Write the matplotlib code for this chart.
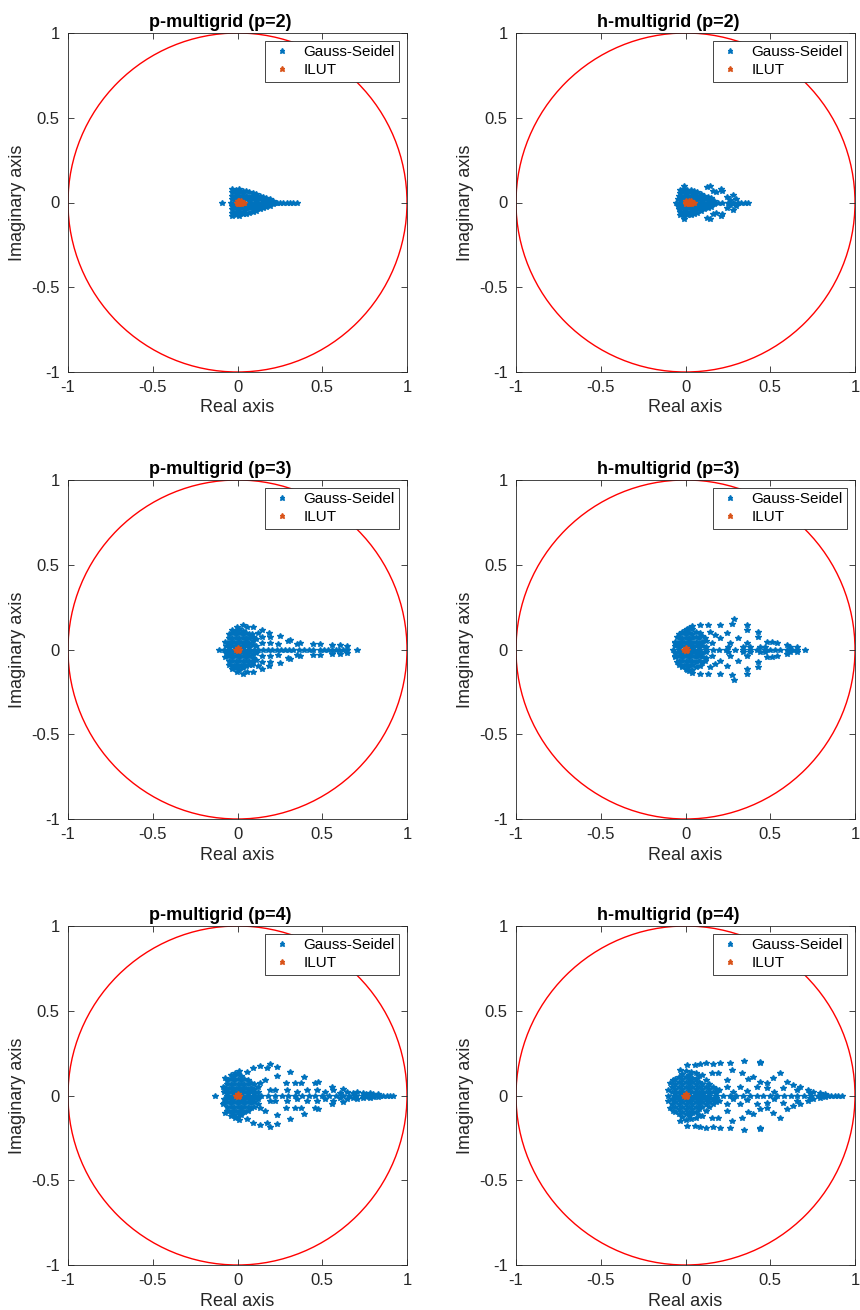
import matplotlib
matplotlib.use("Agg")
import matplotlib.pyplot as plt
from matplotlib.patches import Circle

plt.rcParams['font.family'] = ['Liberation Sans', 'DejaVu Sans']

# eigenvalues: points on the real axis, and the upper-half (conjugate pairs mirrored below)
pg2_axis = [-0.09, -0.04, -0.02, 0.0, 0.02, 0.04, 0.06, 0.08, 0.10, 0.12, 0.14, 0.16, 0.18,
            0.20, 0.22, 0.231, 0.251, 0.271, 0.29, 0.31, 0.33, 0.353]
pg2_pts = [(-0.03, 0.02), (-0.03, 0.04), (-0.03, 0.06), (-0.03, 0.08),
           (-0.01, 0.015), (-0.01, 0.035), (-0.01, 0.055), (-0.01, 0.075),
           (0.01, 0.02), (0.01, 0.04), (0.01, 0.06), (0.01, 0.08),
           (0.03, 0.015), (0.03, 0.035), (0.03, 0.055), (0.03, 0.07),
           (0.05, 0.02), (0.05, 0.04), (0.05, 0.065),
           (0.07, 0.015), (0.07, 0.035), (0.07, 0.06),
           (0.09, 0.02), (0.09, 0.04), (0.09, 0.055),
           (0.11, 0.015), (0.11, 0.035), (0.11, 0.05),
           (0.13, 0.02), (0.13, 0.04), (0.15, 0.015), (0.15, 0.033),
           (0.17, 0.012), (0.17, 0.027), (0.19, 0.01), (0.19, 0.02), (0.21, 0.008)]

hg2_axis = [-0.055, -0.03, -0.01, 0.01, 0.03, 0.05, 0.07, 0.09, 0.11, 0.13, 0.15, 0.17,
            0.19, 0.215, 0.25, 0.28, 0.31, 0.33, 0.35, 0.37]
hg2_pts = [(-0.045, 0.02), (-0.04, 0.04),
           (-0.03, 0.015), (-0.03, 0.035), (-0.03, 0.055), (-0.03, 0.075),
           (-0.01, 0.02), (-0.01, 0.04), (-0.01, 0.06), (-0.01, 0.08), (-0.01, 0.095),
           (0.01, 0.015), (0.01, 0.035), (0.01, 0.055), (0.01, 0.075),
           (0.03, 0.02), (0.03, 0.04), (0.03, 0.06), (0.03, 0.075),
           (0.05, 0.015), (0.05, 0.035), (0.05, 0.055), (0.05, 0.07),
           (0.07, 0.02), (0.07, 0.04), (0.07, 0.06),
           (0.09, 0.015), (0.09, 0.035), (0.09, 0.05),
           (0.11, 0.02), (0.11, 0.04), (0.13, 0.015), (0.13, 0.03),
           (0.15, 0.012), (0.15, 0.025), (0.17, 0.01),
           (0.125, 0.093), (0.145, 0.095), (0.16, 0.068), (0.18, 0.062), (0.21, 0.078),
           (0.215, 0.068), (0.245, 0.035), (0.28, 0.045), (0.30, 0.02), (0.26, 0.015)]

pg3_axis = [-0.109, -0.08, -0.05, -0.02, 0.01, 0.04, 0.07, 0.1, 0.123, 0.152, 0.18, 0.205,
            0.231, 0.255, 0.28, 0.305, 0.33, 0.36, 0.39, 0.42, 0.447, 0.487, 0.51, 0.536,
            0.56, 0.58, 0.6, 0.62, 0.644, 0.703]
pg3_pts = [(0.03, 0.145), (0.054, 0.135), (0.093, 0.131), (0.143, 0.115), (0.188, 0.095),
           (0.251, 0.08), (0.31, 0.056), (0.369, 0.036), (-0.005, 0.135), (-0.034, 0.095),
           (-0.074, 0.046), (0.3, 0.052), (0.349, 0.03), (0.447, 0.03), (0.487, 0.03),
           (0.555, 0.026), (0.605, 0.026), (0.644, 0.023), (0.143, 0.036), (0.192, 0.04),
           (0.24, 0.03), (0.143, 0.076), (0.192, 0.072), (0.084, 0.091), (0.123, 0.095),
           (-0.07, 0.02), (-0.05, 0.015), (-0.05, 0.04), (-0.05, 0.065), (-0.05, 0.09),
           (-0.03, 0.02), (-0.03, 0.045), (-0.03, 0.07), (-0.03, 0.115),
           (-0.01, 0.015), (-0.01, 0.04), (-0.01, 0.065), (-0.01, 0.09), (-0.01, 0.11),
           (0.01, 0.02), (0.01, 0.045), (0.01, 0.07), (0.01, 0.095), (0.01, 0.12),
           (0.03, 0.015), (0.03, 0.04), (0.03, 0.065), (0.03, 0.09), (0.03, 0.11),
           (0.05, 0.02), (0.05, 0.045), (0.05, 0.07), (0.05, 0.1),
           (0.07, 0.015), (0.07, 0.04), (0.07, 0.065), (0.07, 0.09),
           (0.09, 0.025), (0.09, 0.05), (0.09, 0.075), (0.11, 0.02), (0.11, 0.06)]

hg3_axis = [-0.072, -0.04, -0.01, 0.02, 0.05, 0.08, 0.12, 0.16, 0.2, 0.24, 0.29, 0.34,
            0.38, 0.42, 0.47, 0.5, 0.53, 0.56, 0.6, 0.63, 0.66, 0.705]
hg3_pts = [(-0.062, 0.036), (-0.052, 0.076), (-0.023, 0.105), (0.007, 0.119), (0.036, 0.139),
           (0.085, 0.145), (0.135, 0.145), (0.204, 0.145), (0.272, 0.15), (0.288, 0.178),
           (0.361, 0.145), (0.361, 0.115), (0.43, 0.105), (0.43, 0.076), (0.243, 0.095),
           (0.31, 0.066), (0.361, 0.036), (0.479, 0.046), (0.508, 0.046), (0.537, 0.036),
           (0.596, 0.026), (0.145, 0.105), (0.175, 0.085), (0.204, 0.066), (0.263, 0.036),
           (0.085, 0.095), (0.115, 0.066), (0.154, 0.036), (0.253, 0.017), (0.341, 0.017),
           (0.38, 0.017), (0.44, 0.017), (0.47, 0.017), (0.616, 0.013), (0.655, 0.017),
           (-0.06, 0.02), (-0.06, 0.045),
           (-0.04, 0.015), (-0.04, 0.04), (-0.04, 0.065), (-0.04, 0.09),
           (-0.02, 0.02), (-0.02, 0.045), (-0.02, 0.07), (-0.02, 0.095),
           (0.0, 0.015), (0.0, 0.04), (0.0, 0.065), (0.0, 0.09), (0.0, 0.115),
           (0.02, 0.02), (0.02, 0.045), (0.02, 0.07), (0.02, 0.1), (0.02, 0.125),
           (0.04, 0.015), (0.04, 0.04), (0.04, 0.065), (0.04, 0.09), (0.04, 0.12),
           (0.06, 0.02), (0.06, 0.045), (0.06, 0.075), (0.06, 0.105),
           (0.08, 0.015), (0.08, 0.04), (0.08, 0.065),
           (0.10, 0.02), (0.10, 0.045), (0.10, 0.08), (0.12, 0.015), (0.12, 0.05)]

pg4_axis = [-0.133, -0.06, -0.03, 0.0, 0.03, 0.06, 0.09, 0.12, 0.14, 0.18, 0.22, 0.26, 0.3,
            0.34, 0.38, 0.42, 0.46, 0.5, 0.54, 0.58, 0.62, 0.66, 0.7, 0.74, 0.78, 0.8,
            0.82, 0.84, 0.86, 0.88, 0.9, 0.919]
pg4_pts = [(-0.083, 0.052), (-0.074, 0.101), (-0.015, 0.131), (0.01, 0.145), (0.054, 0.141),
           (0.093, 0.16), (0.133, 0.174), (0.192, 0.186), (0.235, 0.166), (0.172, 0.16),
           (0.231, 0.115), (0.31, 0.137), (0.393, 0.111), (0.285, 0.072), (0.339, 0.072),
           (0.377, 0.072), (0.457, 0.072), (0.477, 0.082), (0.555, 0.052), (0.566, 0.033),
           (0.625, 0.036), (0.645, 0.023), (0.704, 0.023), (0.743, 0.017), (0.782, 0.013),
           (0.831, 0.007), (0.133, 0.072), (0.162, 0.091), (0.192, 0.033), (0.221, 0.033),
           (0.29, 0.033), (0.349, 0.023), (0.408, 0.033), (0.467, 0.033), (0.516, 0.023),
           (0.605, 0.013), (0.68, 0.012), (0.76, 0.01), (0.8, 0.008),
           (-0.08, 0.02), (-0.08, 0.045),
           (-0.06, 0.015), (-0.06, 0.04), (-0.06, 0.065), (-0.06, 0.09),
           (-0.04, 0.02), (-0.04, 0.045), (-0.04, 0.07), (-0.04, 0.095), (-0.04, 0.12),
           (-0.02, 0.015), (-0.02, 0.04), (-0.02, 0.065), (-0.02, 0.09), (-0.02, 0.115),
           (0.0, 0.02), (0.0, 0.045), (0.0, 0.07), (0.0, 0.095), (0.0, 0.125),
           (0.02, 0.015), (0.02, 0.04), (0.02, 0.065), (0.02, 0.09), (0.02, 0.115),
           (0.04, 0.02), (0.04, 0.045), (0.04, 0.07), (0.04, 0.1),
           (0.06, 0.015), (0.06, 0.04), (0.06, 0.065), (0.06, 0.09),
           (0.08, 0.02), (0.08, 0.045), (0.08, 0.075),
           (0.10, 0.015), (0.10, 0.04), (0.10, 0.065), (0.12, 0.02), (0.12, 0.05)]

hg4_axis = [-0.101, -0.07, -0.04, -0.01, 0.02, 0.05, 0.08, 0.11, 0.14, 0.18, 0.22, 0.26,
            0.3, 0.34, 0.38, 0.42, 0.46, 0.5, 0.54, 0.58, 0.62, 0.66, 0.7, 0.74, 0.78,
            0.8, 0.82, 0.84, 0.86, 0.88, 0.9, 0.921]
hg4_pts = [(-0.101, 0.032), (-0.091, 0.072), (-0.072, 0.091), (-0.033, 0.15), (0.007, 0.18),
           (0.056, 0.18), (0.085, 0.186), (0.121, 0.19), (0.164, 0.186), (0.204, 0.194),
           (0.263, 0.19), (0.345, 0.206), (0.44, 0.2), (0.44, 0.19), (0.033, 0.141),
           (0.096, 0.121), (0.154, 0.131), (0.193, 0.131), (0.272, 0.15), (0.331, 0.131),
           (0.37, 0.095), (0.4, 0.111), (0.44, 0.082), (0.479, 0.072), (0.518, 0.101),
           (0.557, 0.131), (0.597, 0.082), (0.636, 0.062), (0.675, 0.052), (0.724, 0.032),
           (0.754, 0.023), (0.793, 0.013), (0.243, 0.091), (0.243, 0.052), (0.321, 0.052),
           (0.42, 0.052), (0.479, 0.042), (0.577, 0.042), (0.656, 0.032), (0.734, 0.017),
           (0.823, 0.009), (0.2, 0.03), (0.28, 0.02), (0.36, 0.025), (0.52, 0.02),
           (-0.08, 0.02), (-0.08, 0.05),
           (-0.06, 0.015), (-0.06, 0.04), (-0.06, 0.07), (-0.06, 0.1),
           (-0.04, 0.02), (-0.04, 0.05), (-0.04, 0.08), (-0.04, 0.11),
           (-0.02, 0.015), (-0.02, 0.04), (-0.02, 0.07), (-0.02, 0.1), (-0.02, 0.125),
           (0.0, 0.02), (0.0, 0.05), (0.0, 0.08), (0.0, 0.11), (0.0, 0.145),
           (0.02, 0.015), (0.02, 0.04), (0.02, 0.07), (0.02, 0.1), (0.02, 0.12),
           (0.04, 0.02), (0.04, 0.05), (0.04, 0.08), (0.04, 0.105),
           (0.06, 0.015), (0.06, 0.04), (0.06, 0.07), (0.06, 0.095), (0.06, 0.13),
           (0.08, 0.02), (0.08, 0.05), (0.08, 0.08), (0.08, 0.115),
           (0.10, 0.015), (0.10, 0.04), (0.10, 0.07),
           (0.12, 0.02), (0.12, 0.05), (0.12, 0.09),
           (0.14, 0.015), (0.14, 0.04), (0.14, 0.07),
           (0.16, 0.02), (0.16, 0.05), (0.18, 0.015), (0.18, 0.04)]

# ILUT eigenvalues all sit close to the origin
ilut_p2 = [(-0.005, 0.0), (0.005, 0.0), (0.015, 0.0), (0.025, 0.0), (0.035, 0.0), (0.04, 0.0),
           (0.0, 0.008), (0.01, 0.008), (0.02, 0.006), (0.0, -0.008), (0.01, -0.008),
           (0.02, -0.006)]
ilut_h2 = [(0.0, 0.0), (0.01, 0.0), (0.02, 0.0), (0.03, 0.0), (0.04, 0.0), (0.05, 0.0),
           (0.005, 0.008), (0.02, 0.008), (0.035, 0.006), (0.005, -0.008), (0.02, -0.008),
           (0.035, -0.006)]
ilut_small = [(0.0, 0.0), (0.006, 0.0), (-0.006, 0.0), (0.0, 0.006), (0.0, -0.006)]

panels = [
    ("p-multigrid (p=2)", pg2_axis, pg2_pts, ilut_p2),
    ("h-multigrid (p=2)", hg2_axis, hg2_pts, ilut_h2),
    ("p-multigrid (p=3)", pg3_axis, pg3_pts, ilut_small),
    ("h-multigrid (p=3)", hg3_axis, hg3_pts, ilut_small),
    ("p-multigrid (p=4)", pg4_axis, pg4_pts, ilut_small),
    ("h-multigrid (p=4)", hg4_axis, hg4_pts, ilut_small),
]

BLUE = '#0072BD'
ORANGE = '#D95319'
AXCOL = '#262626'

fig = plt.figure(figsize=(8.6, 13.1), dpi=100)
lefts = [68 / 860, 516 / 860]
bottoms = [1 - 372 / 1310, 1 - 819 / 1310, 1 - 1265 / 1310]
w = 339 / 860
h = 339 / 1310

for k, (title, ax_re, pts, ilut) in enumerate(panels):
    ax = fig.add_axes([lefts[k % 2], bottoms[k // 2], w, h])
    re = list(ax_re) + [p[0] for p in pts] + [p[0] for p in pts]
    im = [0.0] * len(ax_re) + [p[1] for p in pts] + [-p[1] for p in pts]

    ax.add_patch(Circle((0, 0), 1, fill=False, edgecolor='red', lw=1.0, zorder=1))
    ax.plot(re, im, '*', color=BLUE, markersize=4.2, markeredgewidth=1.0,
            label='Gauss-Seidel', zorder=2)
    ax.plot([p[0] for p in ilut], [p[1] for p in ilut], '*', color=ORANGE,
            markersize=4.2, markeredgewidth=1.0, label='ILUT', zorder=3)

    ax.set_xlim(-1, 1)
    ax.set_ylim(-1, 1)
    ax.set_xticks([-1, -0.5, 0, 0.5, 1])
    ax.set_yticks([-1, -0.5, 0, 0.5, 1])
    ax.set_xticklabels(['-1', '-0.5', '0', '0.5', '1'])
    ax.set_yticklabels(['-1', '-0.5', '0', '0.5', '1'])
    ax.tick_params(direction='in', top=True, right=True, length=4, width=0.6,
                   colors=AXCOL, labelsize=12, pad=6)
    for s in ax.spines.values():
        s.set_color(AXCOL)
        s.set_linewidth(0.6)
    ax.set_title(title, fontsize=13, fontweight='bold', pad=4, x=0.45)
    ax.set_xlabel('Real axis', fontsize=13, labelpad=3, color=AXCOL)
    ax.set_ylabel('Imaginary axis', fontsize=13, labelpad=4, color=AXCOL)

    leg = ax.legend(loc='upper right', fontsize=11, fancybox=False, framealpha=1,
                    edgecolor=AXCOL, markerscale=0.9, handlelength=1.6,
                    borderaxespad=0.5, borderpad=0.3, labelspacing=0.25,
                    handletextpad=0.6)
    leg.get_frame().set_linewidth(0.6)

fig.savefig('out.png', dpi=100)
